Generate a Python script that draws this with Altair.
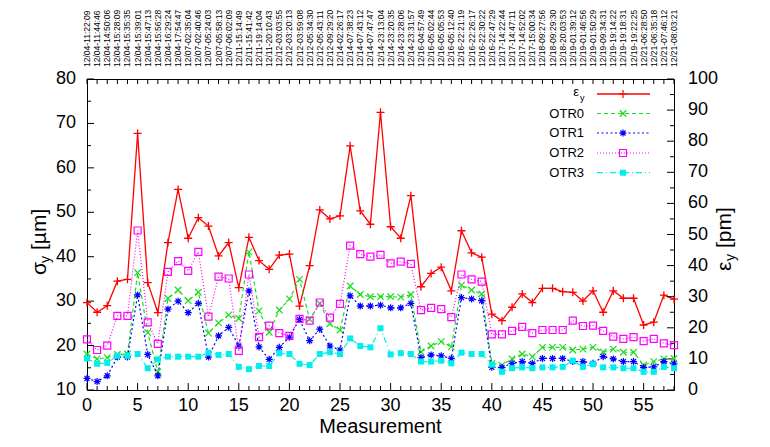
import altair as alt
import pandas as pd

# ---------------- data ----------------
times = [
    "12/04-11:22:09", "12/04-11:44:46", "12/04-14:50:06", "12/04-15:28:09", "12/04-15:35:35",
    "12/04-15:39:01", "12/04-15:47:13", "12/04-15:56:28", "12/04-16:29:24", "12/04-17:54:47",
    "12/07-02:35:04", "12/07-02:40:46", "12/07-05:24:03", "12/07-05:58:13", "12/07-06:02:09",
    "12/11-15:14:49", "12/11-15:41:42", "12/11-19:14:04", "12/11-20:10:43", "12/12-03:03:55",
    "12/12-03:20:13", "12/12-03:59:08", "12/12-05:34:30", "12/12-05:43:11", "12/12-09:29:20",
    "12/14-02:26:17", "12/14-07:38:23", "12/14-07:43:12", "12/14-07:47:47", "12/14-23:13:04",
    "12/14-23:20:35", "12/14-23:28:06", "12/14-23:31:57", "12/16-04:57:49", "12/16-05:02:44",
    "12/16-05:05:53", "12/16-05:12:40", "12/16-22:21:19", "12/16-22:26:17", "12/16-22:30:22",
    "12/16-22:47:29", "12/17-14:22:44", "12/17-14:47:11", "12/17-14:52:02", "12/17-15:00:34",
    "12/18-09:27:56", "12/18-09:29:30", "12/18-20:03:53", "12/19-01:39:12", "12/19-01:46:56",
    "12/19-01:50:29", "12/19-09:34:31", "12/19-19:14:22", "12/19-19:18:31", "12/19-19:22:25",
    "12/21-06:28:50", "12/21-06:35:18", "12/21-07:46:12", "12/21-08:03:21",
]

# emittance eps_y [pm] (right axis)
eps_y = [28.1, 25.0, 27.1, 35.0, 35.6, 82.5, 34.5, 24.9, 47.4, 64.5,
         48.8, 55.4, 52.7, 43.1, 47.4, 32.9, 49.1, 41.6, 38.8, 43.4,
         43.7, 27.0, 40.0, 57.9, 55.0, 56.0, 78.5, 57.6, 53.3, 89.3,
         52.5, 48.8, 62.5, 33.2, 37.5, 39.5, 31.9, 51.2, 44.1, 42.7,
         24.4, 22.3, 26.6, 30.9, 28.1, 32.7, 32.7, 31.6, 31.4, 28.6,
         31.9, 25.0, 31.9, 29.5, 29.5, 20.9, 21.8, 30.5, 29.2]

# beam sizes sigma_y [um] (left axis)
otr0 = [18.1, 17.0, 17.3, 18.0, 18.1, 36.4, 22.9, 14.1, 30.6, 32.5,
        30.1, 32.0, 22.8, 25.1, 26.9, 26.1, 41.1, 27.8, 23.0, 28.0,
        30.5, 34.9, 25.9, 29.5, 24.9, 23.5, 33.4, 31.5, 31.0, 31.0,
        31.0, 30.9, 31.5, 18.6, 19.9, 20.9, 19.7, 33.6, 32.5, 31.6,
        16.0, 15.6, 17.0, 18.1, 17.5, 19.6, 19.6, 19.6, 19.0, 19.2,
        19.6, 18.6, 19.2, 18.5, 18.5, 15.6, 16.4, 17.0, 17.1]
otr1 = [12.6, 11.9, 13.2, 17.4, 17.4, 31.4, 18.0, 13.2, 28.2, 30.0,
        27.4, 29.5, 17.4, 22.2, 24.1, 19.9, 32.3, 19.7, 16.9, 19.6,
        21.9, 25.9, 21.1, 23.7, 19.9, 19.0, 31.2, 28.9, 28.9, 29.1,
        28.5, 28.5, 29.5, 17.3, 17.9, 17.7, 17.1, 30.8, 30.5, 30.1,
        15.1, 15.1, 16.0, 16.4, 16.0, 17.1, 17.1, 17.1, 16.4, 16.4,
        16.0, 17.5, 17.0, 16.4, 16.4, 15.1, 15.2, 16.4, 15.9]
otr2 = [21.4, 19.0, 20.0, 26.7, 26.7, 45.9, 25.2, 20.4, 36.6, 39.0,
        36.8, 41.1, 26.5, 35.5, 35.1, 18.8, 36.0, 21.9, 24.5, 22.8,
        22.2, 26.0, 25.6, 29.7, 26.3, 29.4, 42.5, 40.6, 40.0, 40.4,
        38.5, 38.9, 38.4, 28.0, 28.5, 28.2, 26.4, 36.0, 34.9, 34.4,
        22.5, 22.5, 23.3, 24.2, 22.8, 23.5, 23.5, 23.5, 25.6, 24.4,
        24.5, 23.3, 22.0, 21.5, 21.9, 21.0, 21.5, 20.5, 20.1]
otr3 = [17.1, 15.9, 16.1, 17.7, 17.7, 18.1, 14.9, 16.9, 17.5, 17.5,
        17.5, 17.5, 18.4, 17.9, 18.1, 15.2, 14.7, 15.4, 15.4, 18.3,
        18.1, 15.9, 15.6, 18.1, 18.5, 18.1, 21.6, 19.9, 19.6, 23.9,
        18.0, 18.3, 18.1, 16.4, 16.4, 16.6, 16.0, 18.4, 18.1, 18.1,
        15.7, 14.1, 14.9, 15.1, 14.9, 15.1, 15.1, 15.2, 16.6, 15.2,
        15.8, 15.1, 15.1, 14.9, 14.9, 14.1, 14.1, 15.2, 14.9]

left_ticks_major = [10, 20, 30, 40, 50, 60, 70, 80]
right_ticks_major = [0, 10, 20, 30, 40, 50, 60, 70, 80, 90, 100]
bottom_label_vals = [0, 5, 10, 15, 20, 25, 30, 35, 40, 45, 50, 55]

# ---------------- layout / style ----------------
W, H = 587, 311
FONT = "Liberation Sans"
n = len(times)
x_max = n - 1

df = pd.DataFrame({"m": list(range(n)), "t": times, "eps": eps_y,
                   "OTR0": otr0, "OTR1": otr1, "OTR2": otr2, "OTR3": otr3})
one = pd.DataFrame({"k": [0]})

xs = alt.Scale(domain=[0, x_max], nice=False, zero=False)
yls = alt.Scale(domain=[10, 80], nice=False, zero=False)
yrs = alt.Scale(domain=[0, 100], nice=False, zero=False)

PLUS = "M-1,0L1,0M0,-1L0,1"
CROSS = "M-1,-1L1,1M-1,1L1,-1"
STAR = "M-1,0L1,0M0,-1L0,1M-0.72,-0.72L0.72,0.72M-0.72,0.72L0.72,-0.72"

RED = "#ff0000"
series = [
    ("OTR0", "#1edc1e", [4, 3], CROSS, False, 42),
    ("OTR1", "#0000ff", [2, 2.5], STAR, False, 49),
    ("OTR2", "#ff00ff", [1, 2], "square", False, 49),
    ("OTR3", "#00eeee", [6, 3, 1, 3], "square", True, 36),
]


def yticks(vals, scale, x0, x1):
    return alt.Chart(pd.DataFrame({"v": vals})).mark_rule(color="black", strokeWidth=1).encode(
        y=alt.Y("v:Q", scale=scale, axis=None), x=alt.value(x0), x2=alt.value(x1))


def xticks(vals, y0, y1):
    return alt.Chart(pd.DataFrame({"v": vals})).mark_rule(color="black", strokeWidth=1).encode(
        x=alt.X("v:Q", scale=xs, axis=None), y=alt.value(y0), y2=alt.value(y1))


def ylabels(vals, scale, x0, align):
    return alt.Chart(pd.DataFrame({"v": vals})).mark_text(
        font=FONT, fontSize=18, align=align, baseline="middle", color="black").encode(
        y=alt.Y("v:Q", scale=scale, axis=None), x=alt.value(x0), text="v:Q")


def txt(s, x, y, size, align="left", angle=0, baseline="middle"):
    kw = dict(font=FONT, fontSize=size, align=align, baseline=baseline, color="black")
    if angle:
        kw["angle"] = angle
    return alt.Chart(one).mark_text(**kw).encode(x=alt.value(x), y=alt.value(y), text=alt.value(s))


# ---------------- right group: eps_y ----------------
red_line = alt.Chart(df).mark_line(color=RED, strokeWidth=1.3).encode(
    x=alt.X("m:Q", scale=xs, axis=None),
    y=alt.Y("eps:Q", scale=yrs, axis=None),
)
red_pts = alt.Chart(df).mark_point(shape=PLUS, filled=False, size=64, color=RED,
                                   strokeWidth=1.3, opacity=1).encode(
    x=alt.X("m:Q", scale=xs, axis=None),
    y=alt.Y("eps:Q", scale=yrs, axis=None),
)
right_minor = [v + 5 for v in right_ticks_major[:-1]]
right_group = alt.layer(
    red_line, red_pts,
    yticks(right_ticks_major, yrs, W, W - 7),
    yticks(right_minor, yrs, W, W - 4),
    ylabels(right_ticks_major, yrs, W + 14, "left"),
)

# ---------------- left group: OTR0..3 ----------------
left_layers = []
for name, color, dash, shape, filled, size in series:
    line = alt.Chart(df).mark_line(color=color, strokeWidth=1.2, strokeDash=dash).encode(
        x=alt.X("m:Q", scale=xs, axis=None),
        y=alt.Y(f"{name}:Q", scale=yls, axis=None),
    )
    pts = alt.Chart(df).mark_point(shape=shape, filled=filled, size=size, color=color,
                                   strokeWidth=1.2, opacity=1).encode(
        x=alt.X("m:Q", scale=xs, axis=None),
        y=alt.Y(f"{name}:Q", scale=yls, axis=None),
    )
    left_layers += [line, pts]

left_minor = [v + 5 for v in left_ticks_major[:-1]]
x_minor = [v for v in range(n) if v % 5 != 0]
left_layers += [
    yticks(left_ticks_major, yls, 0, 7),
    yticks(left_minor, yls, 0, 4),
    xticks(bottom_label_vals, H, H - 7),
    xticks(x_minor, H, H - 4),
    xticks(list(range(n)), 0, 5),
    ylabels(left_ticks_major, yls, -11, "right"),
    # bottom tick labels
    alt.Chart(pd.DataFrame({"v": bottom_label_vals})).mark_text(
        font=FONT, fontSize=18, align="center", baseline="middle", color="black").encode(
        x=alt.X("v:Q", scale=xs, axis=None), y=alt.value(H + 16), text="v:Q"),
    # top time labels (x2 axis)
    alt.Chart(df).mark_text(font=FONT, fontSize=8.5, angle=270, align="left",
                            baseline="middle", color="black").encode(
        x=alt.X("m:Q", scale=xs, axis=None), y=alt.value(-12), text="t:N"),
    txt("Measurement", W / 2, 354, 20, align="center", baseline="alphabetic"),
]

# axis titles with subscripts
LX, LY0 = -47, 196
left_layers += [
    txt("σ", LX, LY0, 21, angle=270),
    txt("y", LX + 6, LY0 - 12, 14, angle=270),
    txt("[µm]", LX, LY0 - 25, 21, angle=270),
]
RX, RY0 = 638, 192
left_layers += [
    txt("ε", RX, RY0, 21, angle=270),
    txt("y", RX + 6, RY0 - 10, 14, angle=270),
    txt("[pm]", RX, RY0 - 23, 21, angle=270),
]

# legend (gnuplot style: label left, sample right)
LEG_TX, LEG_X0, LEG_X1, LEG_MX = 497, 510, 563, 536
rows = [("eps", RED, None, PLUS, False, 64)] + series
row_y = [15, 34.5, 54, 74, 93.7]
for (name, color, dash, shape, filled, size), yy in zip(rows, row_y):
    if name == "eps":
        left_layers += [txt("ε", 492, yy - 2, 13, align="right"),
                        txt("y", 497.5, yy + 4, 9, align="right")]
    else:
        left_layers.append(txt(name, LEG_TX, yy, 13, align="right"))
    rule_kw = dict(color=color, strokeWidth=1.3 if name == "eps" else 1.2)
    if dash:
        rule_kw["strokeDash"] = dash
    left_layers.append(alt.Chart(one).mark_rule(**rule_kw).encode(
        x=alt.value(LEG_X0), x2=alt.value(LEG_X1), y=alt.value(yy)))
    left_layers.append(alt.Chart(one).mark_point(shape=shape, filled=filled, size=size,
                                                 color=color, strokeWidth=1.2, opacity=1).encode(
        x=alt.value(LEG_MX), y=alt.value(yy)))

left_group = alt.layer(*left_layers)

chart = alt.layer(right_group, left_group).resolve_scale(y="independent").properties(
    width=W, height=H,
    autosize=alt.AutoSizeParams(type="none"),
    padding={"left": 79, "top": 71, "right": 88, "bottom": 49},
    background="white",
).configure_view(stroke="black", strokeWidth=1)

chart.save("out.html", embed_options={"renderer": "svg", "actions": False})
